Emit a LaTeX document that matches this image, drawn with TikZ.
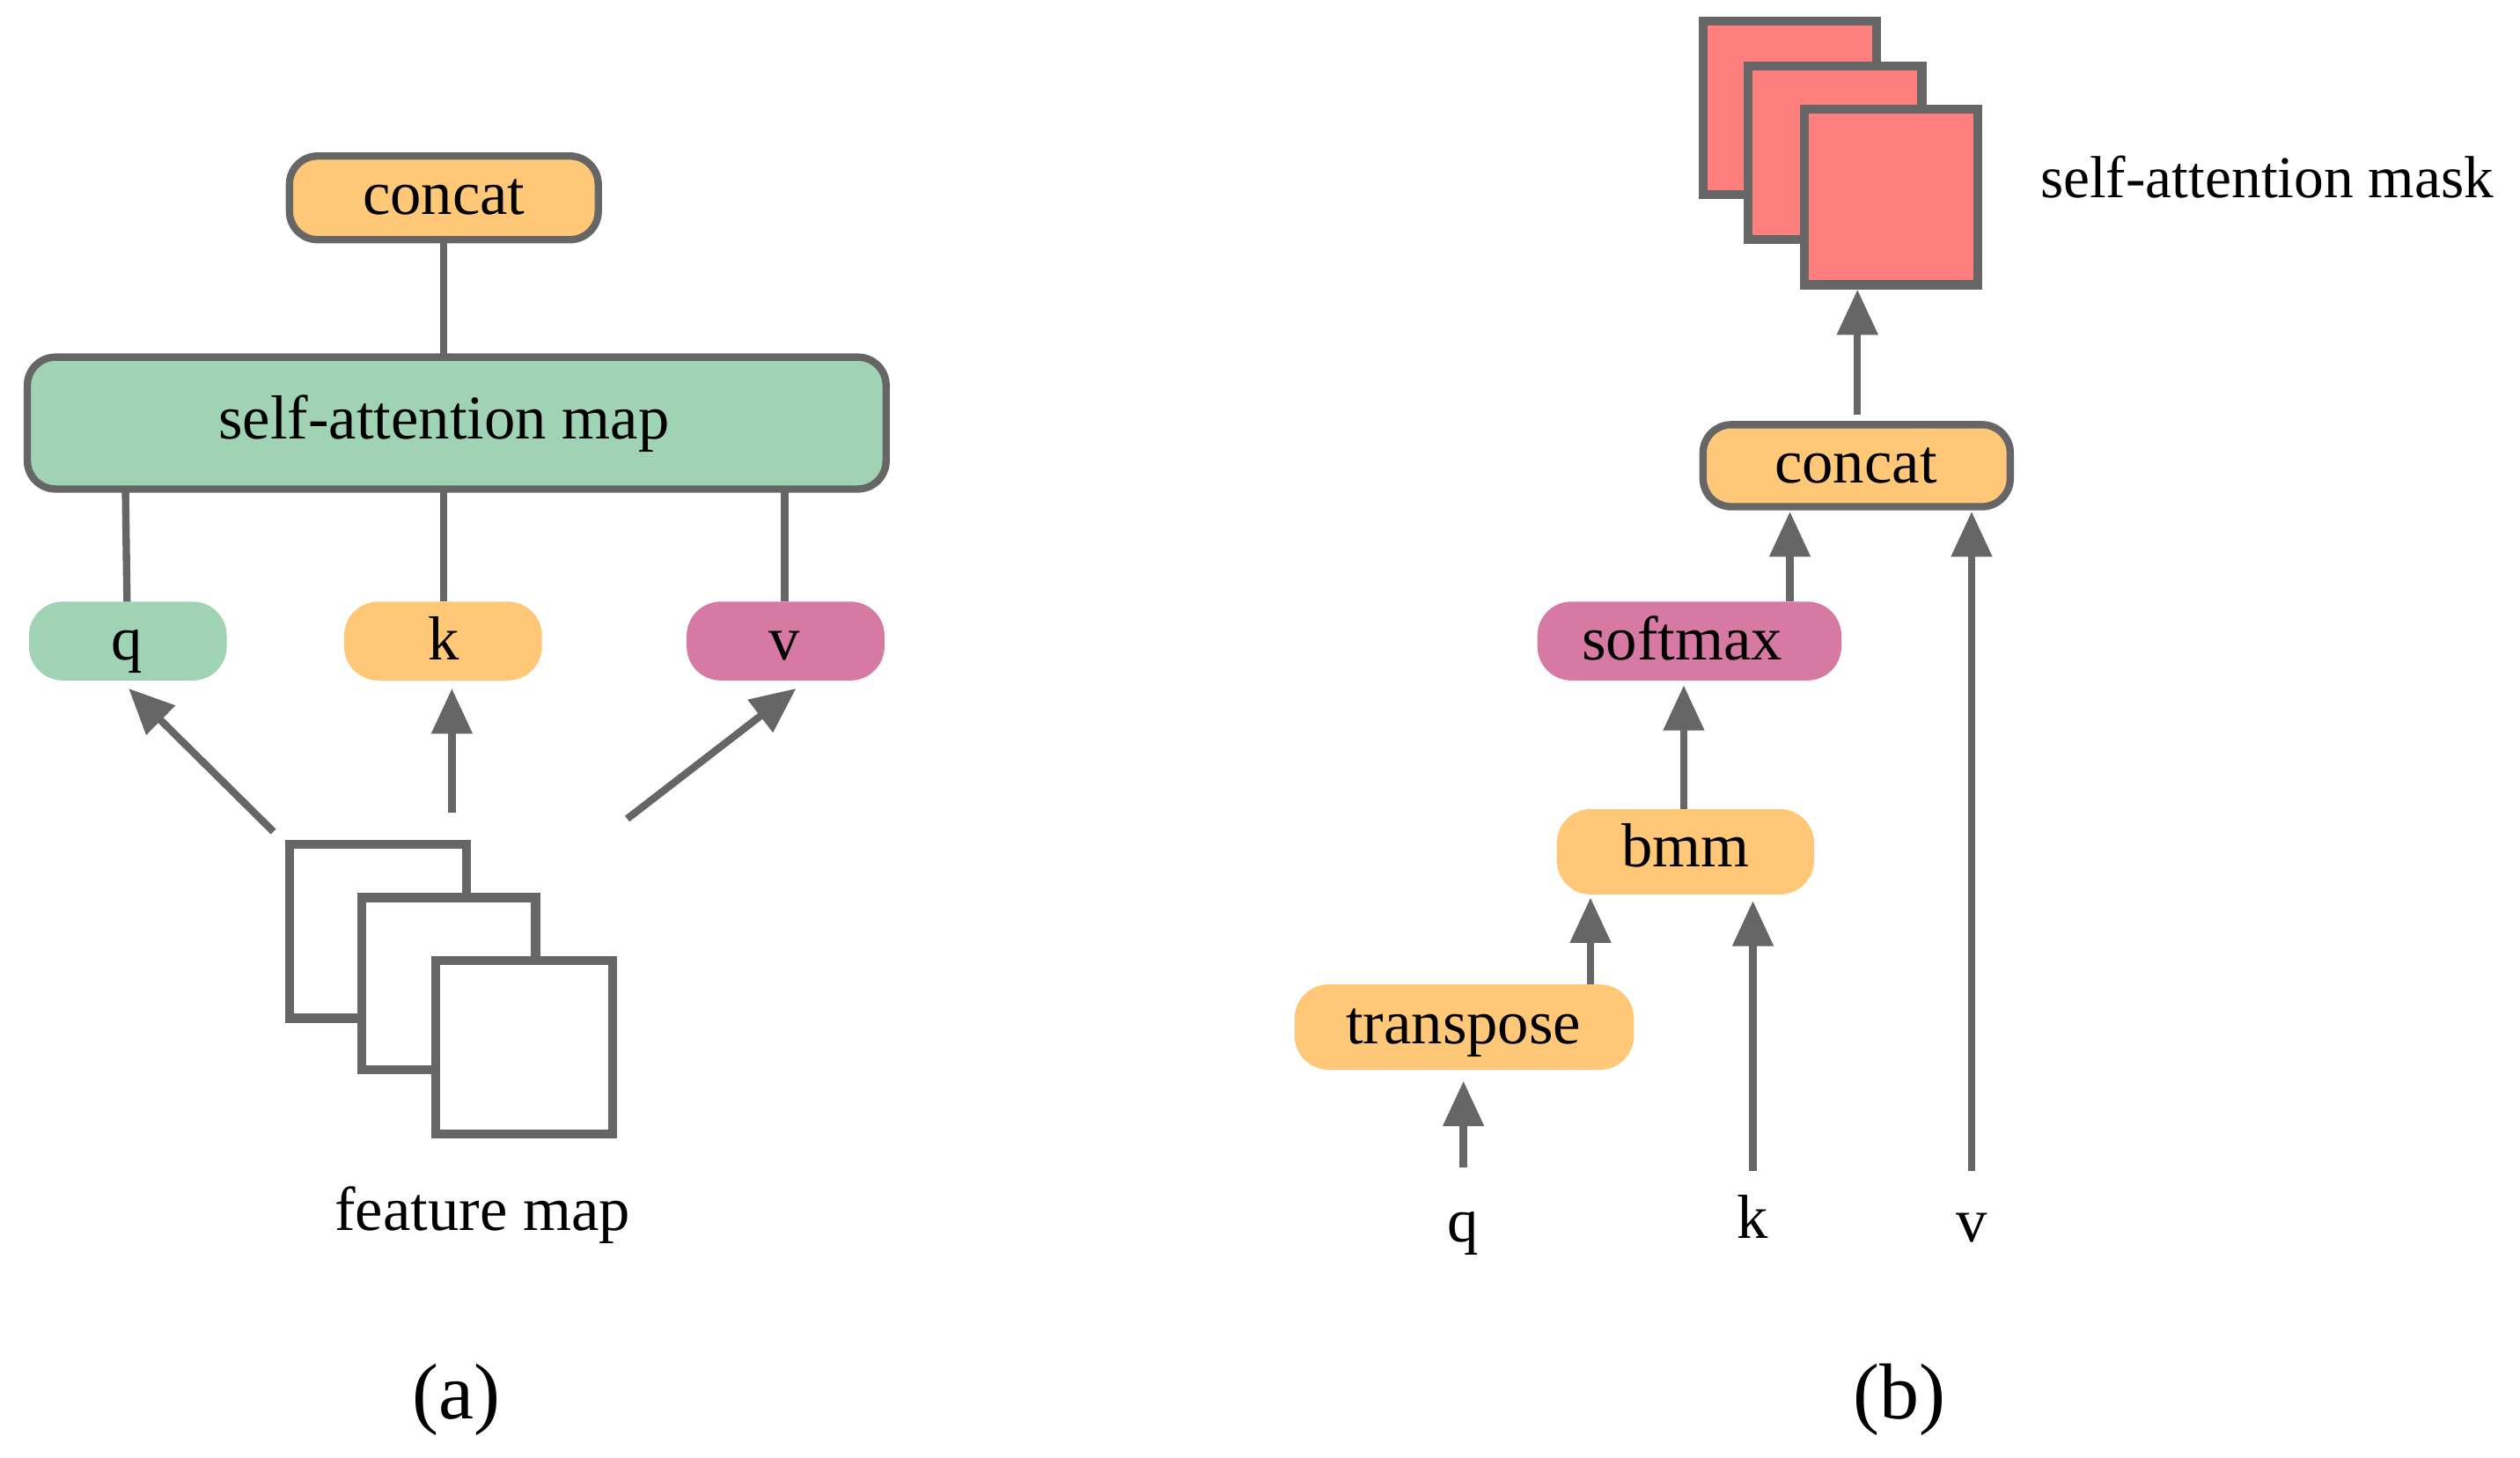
\documentclass[tikz,border=0pt]{standalone}
\usepackage{fontspec}
\setmainfont{Liberation Serif}
\usetikzlibrary{arrows.meta}
\definecolor{org}{HTML}{FFC878}
\definecolor{grn}{HTML}{A0D2B4}
\definecolor{pnk}{HTML}{D67AA3}
\definecolor{red}{HTML}{FF7F7F}
\definecolor{ln}{HTML}{666666}
\begin{document}
\begin{tikzpicture}[x=0.01cm,y=-0.01cm,
  box/.style={rounded corners=5pt,draw=ln,line width=1.3pt},
  flat/.style={rounded corners=6pt},
  lbl/.style={font=\fontsize{11}{13}\selectfont,anchor=base,yshift=-0.1cm},
  con/.style={ln,line width=1.3pt},
  arr/.style={ln,line width=1.3pt,-{Triangle[length=8pt,width=7pt]}},
  sq/.style={draw=ln,line width=1.6pt}]
\useasboundingbox (0,0) rectangle (1567,906);
% (a)
\draw[box,fill=org] (180,97) rectangle (372,149);
\node[lbl] (ca) at (276,123) {concat};
\draw[box,fill=grn] (17,222) rectangle (551,304);
\node[lbl] (sam) at (276,263) {self-attention map};
\fill[flat,grn] (18,374) rectangle (141,423); \node[lbl] (qa) at (79,400) {q};
\fill[flat,org] (214,374) rectangle (337,423); \node[lbl] (ka) at (276,400) {k};
\fill[flat,pnk] (427,374) rectangle (550,423); \node[lbl] (va) at (488,400) {v};
\draw[con] (276,149) -- (276,222);
\draw[con] (78,304) -- (79,374);
\draw[con] (276,304) -- (276,374);
\draw[con] (488,304) -- (488,374);
\coordinate (f1) at (170,517); \coordinate (f2) at (281,505); \coordinate (f3) at (390,509);
\draw[arr] (f1) -- (80,428);
\draw[arr] (f2) -- (281,428);
\draw[arr] (f3) -- (495,428);
\draw[sq,fill=white] (180,525) rectangle (290,633);
\draw[sq,fill=white] (225,558) rectangle (333,665);
\draw[sq,fill=white] (271,597) rectangle (381,705);
\node[lbl] (fm) at (300,755) {feature map};
\node[font=\fontsize{14}{17}\selectfont] (la) at (284,870) {(a)};
% (b)
\draw[sq,fill=red] (1059,13) rectangle (1167,121);
\draw[sq,fill=red] (1087,41) rectangle (1195,149);
\draw[sq,fill=red] (1122,68) rectangle (1230,177);
\node[font=\fontsize{10.5}{13}\selectfont,anchor=west,inner sep=0pt] (sm) at (1268,110) {self-attention mask};
\draw[box,fill=org] (1059,264) rectangle (1250,315);
\node[lbl] (cb) at (1154,290) {concat};
\fill[flat,pnk] (956,374) rectangle (1145,423); \node[lbl] (soft) at (1046,400) {softmax};
\fill[flat,org] (968,503) rectangle (1128,556); \node[lbl] (bmm) at (1048,529) {bmm};
\fill[flat,org] (805,612) rectangle (1016,665); \node[lbl] (tr) at (910,639) {transpose};
\draw[arr] (1155,258) -- (1155,180);
\draw[arr] (1113,374) -- (1113,318);
\draw[arr] (1047,503) -- (1047,426);
\draw[arr] (989,612) -- (989,558);
\node[lbl] (qb) at (910,762) {q};
\node[lbl] (kb) at (1090,760) {k};
\node[lbl] (vb) at (1226,762) {v};
\draw[arr] (910,726) -- (910,672);
\draw[arr] (1090,728) -- (1090,560);
\draw[arr] (1226,728) -- (1226,318);
\node[font=\fontsize{14}{17}\selectfont] (lb) at (1181,870) {(b)};
\end{tikzpicture}
\end{document}
